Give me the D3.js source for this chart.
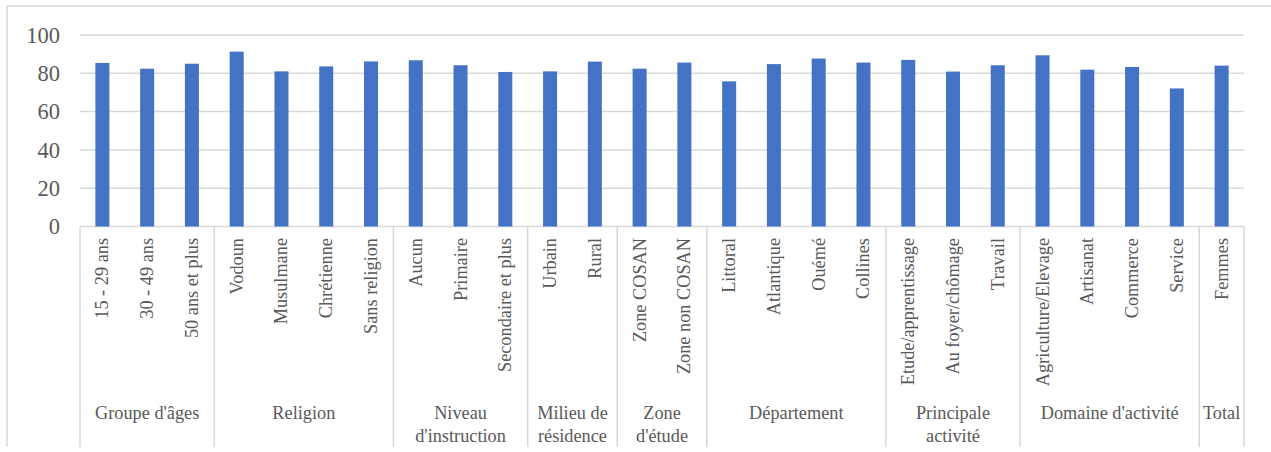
<!DOCTYPE html>
<html>
<head>
<meta charset="utf-8">
<script src="https://cdn.jsdelivr.net/npm/d3@7"></script>
<style>
  body { margin: 0; background: #fff; }
  svg text { font-family: "Liberation Serif", "Tinos", "Times New Roman", "DejaVu Serif", serif; fill: #595959; }
</style>
</head>
<body>
<div id="chart"></div>
<script>
// categories, in display order, with their group
const categories = [
  "15 - 29 ans", "30 - 49 ans", "50 ans et plus",
  "Vodoun", "Musulmane", "Chrétienne", "Sans religion",
  "Aucun", "Primaire", "Secondaire et plus",
  "Urbain", "Rural",
  "Zone COSAN", "Zone non COSAN",
  "Littoral", "Atlantique", "Ouémé", "Collines",
  "Etude/apprentissage", "Au foyer/chômage", "Travail",
  "Agriculture/Elevage", "Artisanat", "Commerce", "Service",
  "Femmes"
];
const values = [
  85.4, 82.4, 85.0,
  91.3, 81.0, 83.6, 86.2,
  86.8, 84.2, 80.7,
  81.0, 86.1,
  82.4, 85.6,
  75.8, 84.8, 87.7, 85.6,
  87.0, 80.9, 84.2,
  89.4, 81.9, 83.3, 72.1,
  84.0
];
// group labels (lines) and group sizes
const groupLabels = [
  ["Groupe d'âges"], ["Religion"], ["Niveau", "d'instruction"],
  ["Milieu de", "résidence"], ["Zone", "d'étude"], ["Département"],
  ["Principale", "activité"], ["Domaine d'activité"], ["Total"]
];
const groupSizes = [3, 4, 3, 2, 2, 4, 3, 4, 1];
const yTicks = [0, 20, 40, 60, 80, 100];

const width = 1271, height = 452;
const plot = { left: 80, right: 1244, top: 35, bottom: 226.5 };
const serif = "'Liberation Serif', Tinos, 'Times New Roman', 'DejaVu Serif', serif";

const svg = d3.select("#chart").append("svg")
  .attr("width", width)
  .attr("height", height)
  .attr("font-family", serif);

// chart border (left and top visible)
svg.append("path")
  .attr("d", `M7,447V6H${width}`)
  .attr("fill", "none")
  .attr("stroke", "#d9d9d9")
  .attr("stroke-width", 1.5);

const x = d3.scaleBand()
  .domain(categories)
  .range([plot.left, plot.right])
  .paddingInner(0.687)
  .paddingOuter(0.3435);

const y = d3.scaleLinear()
  .domain([0, 100])
  .range([plot.bottom, plot.top]);

// gridlines
svg.append("g")
  .selectAll("line")
  .data(yTicks)
  .join("line")
  .attr("x1", plot.left)
  .attr("x2", plot.right)
  .attr("y1", d => y(d))
  .attr("y2", d => y(d))
  .attr("stroke", "#d9d9d9")
  .attr("stroke-width", 1.5);

// y axis labels
const yAxis = svg.append("g")
  .attr("transform", `translate(${plot.left - 20},0)`)
  .call(d3.axisLeft(y).tickValues(yTicks).tickSize(0).tickPadding(0));
yAxis.attr("font-family", serif);
yAxis.select(".domain").remove();
yAxis.selectAll("text")
  .attr("font-size", "22.5px")
  .attr("fill", "#595959");

// bars
svg.append("g")
  .selectAll("rect")
  .data(categories)
  .join("rect")
  .attr("x", d => x(d))
  .attr("width", x.bandwidth())
  .attr("y", (d, i) => y(values[i]))
  .attr("height", (d, i) => y(0) - y(values[i]))
  .attr("fill", "#4472c4");

// category labels (rotated)
svg.append("g")
  .selectAll("text")
  .data(categories)
  .join("text")
  .attr("transform", d => `translate(${x(d) + x.bandwidth() / 2 + 6},238) rotate(-90)`)
  .attr("text-anchor", "end")
  .attr("font-size", "18.3px")
  .text(d => d);

// group separators and labels
const bounds = [0];
groupSizes.forEach(s => bounds.push(bounds[bounds.length - 1] + s));
const step = x.step();
const bx = i => plot.left + bounds[i] * step;

svg.append("g")
  .selectAll("line")
  .data(bounds)
  .join("line")
  .attr("x1", (d, i) => bx(i))
  .attr("x2", (d, i) => bx(i))
  .attr("y1", plot.bottom)
  .attr("y2", 447)
  .attr("stroke", "#d9d9d9")
  .attr("stroke-width", 1.5);

const gl = svg.append("g")
  .selectAll("text")
  .data(groupLabels)
  .join("text")
  .attr("text-anchor", "middle")
  .attr("font-size", "18.3px")
  .attr("x", (d, i) => (bx(i) + bx(i + 1)) / 2)
  .attr("y", 419);

gl.selectAll("tspan")
  .data(d => d)
  .join("tspan")
  .attr("x", function() { return d3.select(this.parentNode).attr("x"); })
  .attr("dy", (d, i) => i === 0 ? 0 : 22.5)
  .text(d => d);
</script>
</body>
</html>
